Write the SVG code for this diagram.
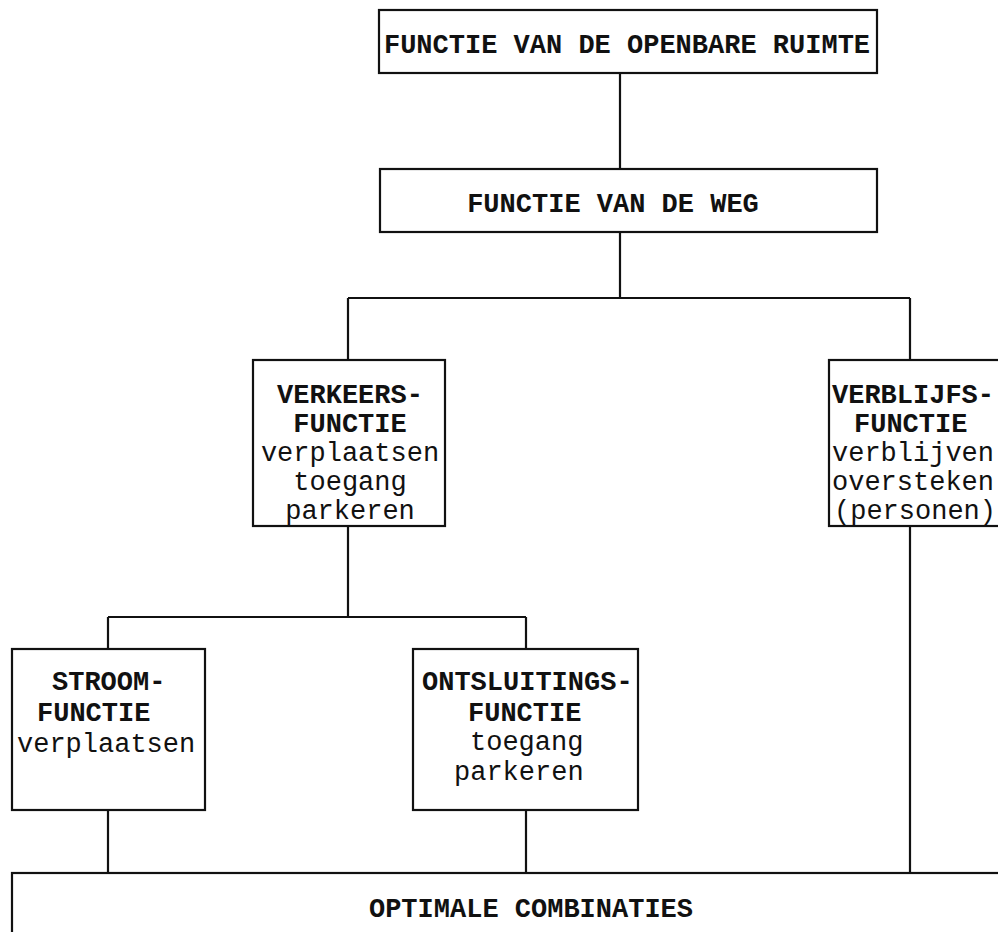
<svg xmlns="http://www.w3.org/2000/svg" width="998" height="932" viewBox="0 0 998 932">
<style>
.box{fill:#fff;stroke:#111;stroke-width:2.2}
.ln{stroke:#111;stroke-width:2.2;fill:none}
text{font-family:"Liberation Mono","Courier New",monospace;font-size:27px;fill:#111}
.u{font-weight:bold}
.c{text-anchor:middle}
</style>
<rect width="998" height="932" fill="#fff"/>
<g id="connectors">
<path class="ln" d="M620 73V169M620 232V298M348 298H910M348 298V360M910 298V360M348 526V617M108 617H526M108 617V649M526 617V649M108 810V873M526 810V873M910 526V873"/>
</g>
<g id="openbare-ruimte">
<rect class="box" x="379" y="10" width="498" height="63"/>
<text class="u c" x="627" y="53">FUNCTIE VAN DE OPENBARE RUIMTE</text>
</g>
<g id="weg">
<rect class="box" x="380" y="169" width="497" height="63"/>
<text class="u c" x="613" y="212">FUNCTIE VAN DE WEG</text>
</g>
<g id="verkeersfunctie">
<rect class="box" x="253" y="360" width="192" height="166"/>
<text class="u c" x="350" y="403">VERKEERS-</text>
<text class="u c" x="350" y="432">FUNCTIE</text>
<text class="c" x="350" y="461">verplaatsen</text>
<text class="c" x="350" y="490">toegang</text>
<text class="c" x="350" y="519">parkeren</text>
</g>
<g id="verblijfsfunctie">
<rect class="box" x="829" y="360" width="180" height="166"/>
<text class="u" x="832" y="403">VERBLIJFS-</text>
<text class="u" x="854" y="432">FUNCTIE</text>
<text x="832" y="461">verblijven</text>
<text x="832" y="490">oversteken</text>
<text x="834" y="519">(personen)</text>
</g>
<g id="stroomfunctie">
<rect class="box" x="12" y="649" width="193" height="161"/>
<text class="u" x="52" y="690">STROOM-</text>
<text class="u" x="37" y="721">FUNCTIE</text>
<text x="17" y="752">verplaatsen</text>
</g>
<g id="ontsluitingsfunctie">
<rect class="box" x="413" y="649" width="225" height="161"/>
<text class="u" x="422" y="690">ONTSLUITINGS-</text>
<text class="u" x="468" y="721">FUNCTIE</text>
<text x="470" y="750">toegang</text>
<text x="454" y="780">parkeren</text>
</g>
<g id="optimale-combinaties">
<rect class="box" x="12" y="873" width="1000" height="80"/>
<text class="u c" x="531" y="917">OPTIMALE COMBINATIES</text>
</g>
</svg>
